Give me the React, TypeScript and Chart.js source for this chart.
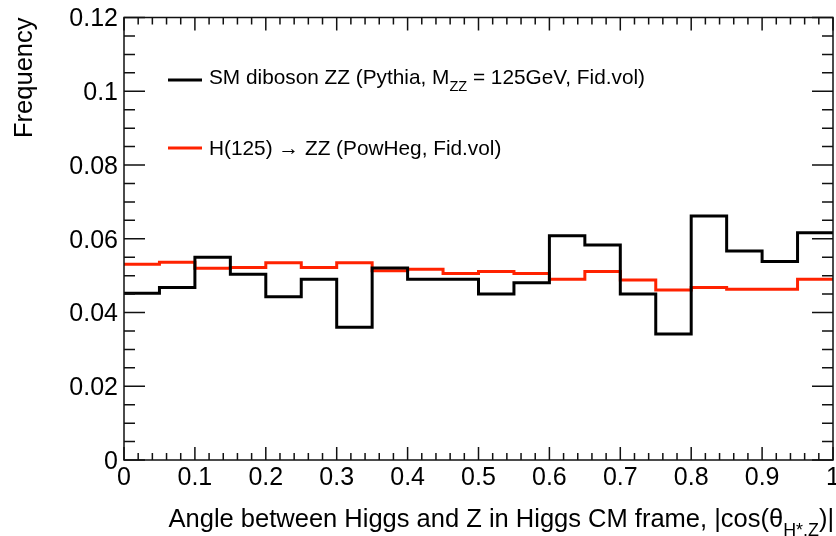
import React, { useEffect, useRef } from "react";
import { Chart, registerables } from "chart.js";

Chart.register(...registerables);

// ---- Data ----
const binEdges = [
  0, 0.05, 0.1, 0.15, 0.2, 0.25, 0.3, 0.35, 0.4, 0.45, 0.5,
  0.55, 0.6, 0.65, 0.7, 0.75, 0.8, 0.85, 0.9, 0.95, 1,
];
const smDiboson = [
  0.0452, 0.0468, 0.055, 0.0504, 0.0443, 0.049, 0.036, 0.0521, 0.049, 0.049,
  0.045, 0.0481, 0.0608, 0.0583, 0.045, 0.0342, 0.0662, 0.0567, 0.0538, 0.0616,
];
const higgs = [
  0.0531, 0.0536, 0.052, 0.0522, 0.0535, 0.0522, 0.0535, 0.0513, 0.0517, 0.0506,
  0.0511, 0.0506, 0.049, 0.0511, 0.0488, 0.0461, 0.0468, 0.0463, 0.0463, 0.049,
];
const xTickValues = [0, 0.1, 0.2, 0.3, 0.4, 0.5, 0.6, 0.7, 0.8, 0.9, 1];
const xTickLabels = ["0", "0.1", "0.2", "0.3", "0.4", "0.5", "0.6", "0.7", "0.8", "0.9", "1"];
const yTickValues = [0, 0.02, 0.04, 0.06, 0.08, 0.1, 0.12];
const yTickLabels = ["0", "0.02", "0.04", "0.06", "0.08", "0.1", "0.12"];

const FONT = "'Liberation Sans', Arial, Helvetica, sans-serif";
const BLACK = "#000000";
const RED = "#ff2200";

type Seg = { t: string; sub?: boolean };

function segWidth(ctx: CanvasRenderingContext2D, segs: Seg[], size: number) {
  let w = 0;
  for (const s of segs) {
    ctx.font = `${s.sub ? size * 0.7 : size}px ${FONT}`;
    w += ctx.measureText(s.t).width;
  }
  return w;
}

function drawSegs(
  ctx: CanvasRenderingContext2D,
  segs: Seg[],
  x: number,
  y: number,
  size: number
) {
  let cx = x;
  ctx.textAlign = "left";
  ctx.textBaseline = "alphabetic";
  for (const s of segs) {
    const fs = s.sub ? size * 0.7 : size;
    ctx.font = `${fs}px ${FONT}`;
    ctx.fillText(s.t, cx, s.sub ? y + size * 0.35 : y);
    cx += ctx.measureText(s.t).width;
  }
}

function toPoints(vals: number[]) {
  return binEdges.map((e, i) => ({ x: e, y: vals[Math.min(i, vals.length - 1)] }));
}

const decorPlugin = {
  id: "rootDecor",
  afterDraw(chart: any) {
    const ctx: CanvasRenderingContext2D = chart.ctx;
    const xs = chart.scales.x;
    const ys = chart.scales.y;
    const a = chart.chartArea;
    ctx.save();
    ctx.strokeStyle = "#111";
    ctx.lineWidth = 1.5;
    ctx.strokeRect(a.left, a.top, a.right - a.left, a.bottom - a.top);

    ctx.beginPath();
    // x ticks: major 0.1, minor 0.02
    for (let i = 0; i <= 50; i++) {
      const px = xs.getPixelForValue(i * 0.02);
      const len = i % 5 === 0 ? 13 : 7;
      ctx.moveTo(px, a.bottom);
      ctx.lineTo(px, a.bottom - len);
      ctx.moveTo(px, a.top);
      ctx.lineTo(px, a.top + len);
    }
    // y ticks: major 0.02, minor 0.005
    for (let i = 0; i <= 24; i++) {
      const py = ys.getPixelForValue(i * 0.005);
      const len = i % 4 === 0 ? 21 : 11;
      ctx.moveTo(a.left, py);
      ctx.lineTo(a.left + len, py);
      ctx.moveTo(a.right, py);
      ctx.lineTo(a.right - len, py);
    }
    ctx.stroke();

    ctx.fillStyle = BLACK;
    // y tick labels
    ctx.font = `25px ${FONT}`;
    ctx.textAlign = "right";
    ctx.textBaseline = "middle";
    yTickValues.forEach((v, i) => {
      const py = ys.getPixelForValue(v);
      ctx.fillText(yTickLabels[i], a.left - 6, py + 2);
    });
    // x tick labels
    ctx.textAlign = "center";
    ctx.textBaseline = "top";
    xTickValues.forEach((v, i) => {
      const px = xs.getPixelForValue(v);
      ctx.fillText(xTickLabels[i], px, a.bottom + 6);
    });

    // x title, right aligned
    const xt: Seg[] = [
      { t: "Angle between Higgs and Z in Higgs CM frame, |cos(\u03B8" },
      { t: "H*,Z", sub: true },
      { t: ")|" },
    ];
    const xsz = 25.5;
    const xw = segWidth(ctx, xt, xsz);
    drawSegs(ctx, xt, a.right + 1 - xw, 527, xsz);

    // y title, rotated, top aligned
    ctx.save();
    ctx.translate(32, a.top);
    ctx.rotate(-Math.PI / 2);
    ctx.font = `25.5px ${FONT}`;
    ctx.textAlign = "right";
    ctx.textBaseline = "alphabetic";
    ctx.fillText("Frequency", 0, 0);
    ctx.restore();

    // legend
    const lsz = 20.8;
    ctx.lineWidth = 3;
    ctx.strokeStyle = BLACK;
    ctx.beginPath();
    ctx.moveTo(168, 80);
    ctx.lineTo(202, 80);
    ctx.stroke();
    drawSegs(
      ctx,
      [
        { t: "SM diboson ZZ (Pythia, M" },
        { t: "ZZ", sub: true },
        { t: " = 125GeV, Fid.vol)" },
      ],
      209,
      84,
      lsz
    );
    ctx.strokeStyle = RED;
    ctx.beginPath();
    ctx.moveTo(168, 148);
    ctx.lineTo(202, 148);
    ctx.stroke();
    drawSegs(ctx, [{ t: "H(125) \u2192 ZZ (PowHeg, Fid.vol)" }], 209, 155, lsz);

    ctx.restore();
  },
};

export default function App() {
  const ref = useRef<HTMLCanvasElement>(null);
  useEffect(() => {
    document.body.style.margin = "0";
    const canvas = ref.current!;
    const chart = new Chart(canvas, {
      type: "line",
      data: {
        datasets: [
          {
            label: "SM diboson ZZ",
            data: toPoints(smDiboson),
            borderColor: BLACK,
            borderWidth: 3,
            stepped: true,
            pointRadius: 0,
            fill: false,
          },
          {
            label: "H(125) -> ZZ",
            data: toPoints(higgs),
            borderColor: RED,
            borderWidth: 3,
            stepped: true,
            pointRadius: 0,
            fill: false,
          },
        ],
      },
      options: {
        responsive: false,
        animation: false,
        devicePixelRatio: 1,
        layout: { padding: { left: 124, right: 3, top: 17.5, bottom: 76 } },
        plugins: { legend: { display: false }, tooltip: { enabled: false } },
        scales: {
          x: { type: "linear", min: 0, max: 1, display: false },
          y: { type: "linear", min: 0, max: 0.12, display: false },
        },
      },
      plugins: [decorPlugin],
    });
    return () => chart.destroy();
  }, []);
  return (
    <div style={{ width: 836, height: 536, background: "#fff" }}>
      <canvas ref={ref} width={836} height={536} style={{ display: "block" }} />
    </div>
  );
}
